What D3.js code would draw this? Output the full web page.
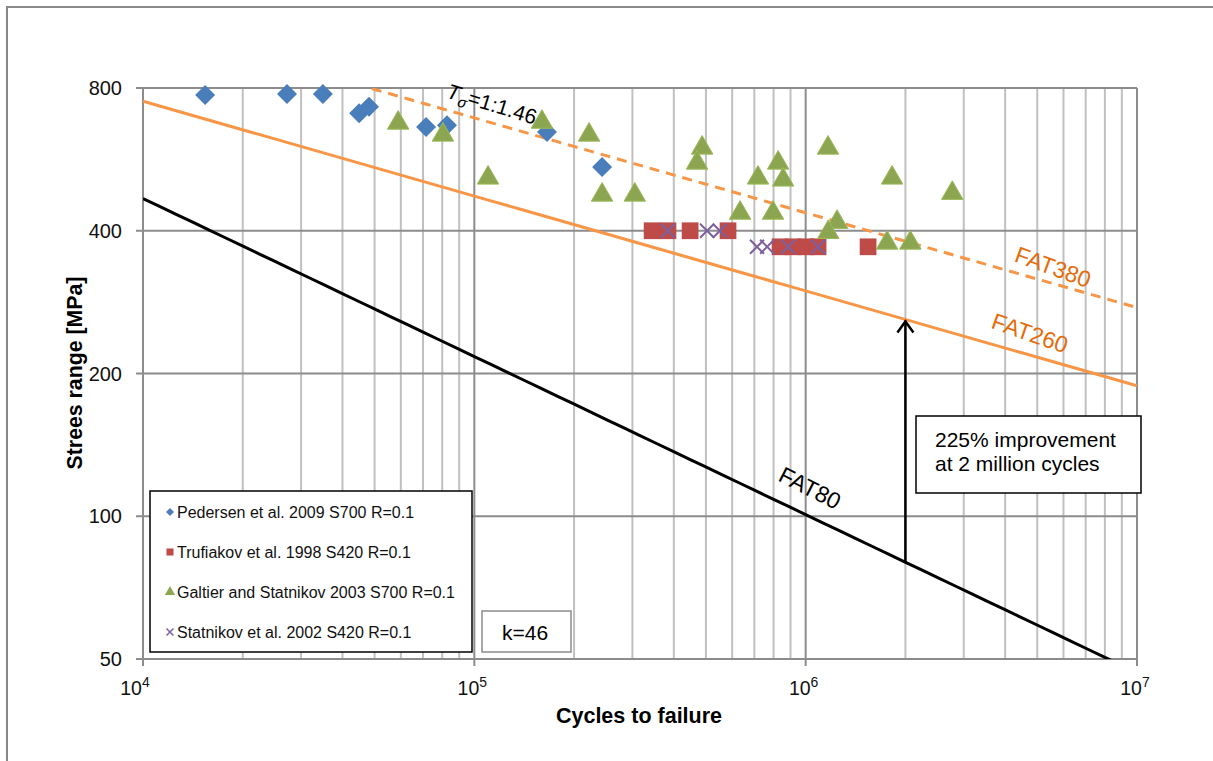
<!DOCTYPE html>
<html>
<head>
<meta charset="utf-8">
<script src="https://cdn.jsdelivr.net/npm/d3@7"></script>
<style>
  body { margin: 0; background: #fff; }
  text { font-family: "Liberation Sans", Arial, sans-serif; }
</style>
</head>
<body>
<script>
// data
const pedersenN = [1.54e4, 2.72e4, 3.49e4, 4.49e4, 4.81e4, 7.15e4, 8.27e4, 1.657e5, 2.43e5];
const pedersenS = [773, 777, 777, 708, 730, 662, 668, 646, 545];

const trufiakovN = [3.44e5, 3.84e5, 4.48e5, 5.83e5, 8.37e5, 9.16e5, 1.003e6, 1.09e6, 1.543e6];
const trufiakovS = [400, 400, 400, 400, 370, 370, 370, 370, 370];

const galtierN = [5.89e4, 8.04e4, 1.10e5, 1.60e5, 2.22e5, 2.43e5, 3.05e5, 4.87e5, 4.70e5, 6.34e5, 7.18e5,
                  8.26e5, 8.55e5, 7.97e5, 1.168e6, 1.244e6, 1.17e6, 1.761e6, 2.07e6, 1.823e6, 2.77e6];
const galtierS = [675, 637, 517, 678, 637, 476, 476, 598, 556, 436, 517,
                  556, 512, 436, 598, 417, 397, 377, 377, 517, 480];

const statnikovN = [3.84e5, 5.04e5, 5.51e5, 7.13e5, 7.65e5, 8.85e5, 1.09e6];
const statnikovS = [400, 400, 400, 370, 370, 370, 370];

const seriesNames = ["Pedersen et al. 2009 S700 R=0.1", "Trufiakov et al. 1998 S420 R=0.1",
                     "Galtier and Statnikov 2003 S700 R=0.1", "Statnikov et al. 2002 S420 R=0.1"];

const yTicks = [50, 100, 200, 400, 800];
const xTickExp = [4, 5, 6, 7];

// FAT curves: class, slope m
const fatClass = [80, 260, 380];
const fatSlope = [3, 5, 5];

const W = 1213, H = 761;
const margin = {left: 143, top: 88, right: 76, bottom: 102};

const x = d3.scaleLog().domain([1e4, 1e7]).range([margin.left, W - margin.right]);
const y = d3.scaleLog().domain([50, 800]).range([H - margin.bottom, margin.top]);

const svg = d3.select('body').append('svg')
    .attr('width', W).attr('height', H);

// outer chart border
svg.append('rect').attr('x', 7).attr('y', 7).attr('width', W).attr('height', H)
    .attr('fill', 'none').attr('stroke', '#898989').attr('stroke-width', 2);

const defs = svg.append('defs');
defs.append('clipPath').attr('id', 'plotClip').append('rect')
    .attr('x', x(1e4)).attr('y', y(800)).attr('width', x(1e7) - x(1e4)).attr('height', y(50) - y(800));

// grid: minor verticals
const minorX = [];
for (let e = 4; e < 7; e++) for (let k = 2; k <= 9; k++) minorX.push(k * Math.pow(10, e));
svg.append('g').selectAll('line').data(minorX).join('line')
    .attr('x1', d => x(d)).attr('x2', d => x(d))
    .attr('y1', y(800)).attr('y2', y(50))
    .attr('stroke', '#c0c0c0').attr('stroke-width', 2);

// major verticals
svg.append('g').selectAll('line').data(xTickExp.slice(1)).join('line')
    .attr('x1', d => x(Math.pow(10, d))).attr('x2', d => x(Math.pow(10, d)))
    .attr('y1', y(800)).attr('y2', y(50))
    .attr('stroke', '#8c8c8c').attr('stroke-width', 2);

// horizontal grid
svg.append('g').selectAll('line').data(yTicks.slice(1)).join('line')
    .attr('x1', x(1e4)).attr('x2', x(1e7))
    .attr('y1', d => y(d)).attr('y2', d => y(d))
    .attr('stroke', '#8c8c8c').attr('stroke-width', 2);

// axes lines + ticks
const axisG = svg.append('g').attr('stroke', '#8c8c8c').attr('stroke-width', 2);
axisG.append('line').attr('x1', x(1e4)).attr('x2', x(1e4)).attr('y1', y(800)).attr('y2', y(50));
axisG.append('line').attr('x1', x(1e4)).attr('x2', x(1e7)).attr('y1', y(50)).attr('y2', y(50));
axisG.selectAll('.yt').data(yTicks).join('line').attr('class', 'yt')
    .attr('x1', x(1e4) - 7).attr('x2', x(1e4)).attr('y1', d => y(d)).attr('y2', d => y(d));
axisG.selectAll('.xt').data(xTickExp).join('line').attr('class', 'xt')
    .attr('x1', d => x(Math.pow(10, d))).attr('x2', d => x(Math.pow(10, d)))
    .attr('y1', y(50)).attr('y2', y(50) + 7);

// tick labels
svg.append('g').selectAll('text').data(yTicks).join('text')
    .attr('x', x(1e4) - 21).attr('y', d => y(d)).attr('dy', '0.35em')
    .attr('text-anchor', 'end').attr('font-size', 20).attr('fill', '#111')
    .text(d => d);

const xl = svg.append('g').selectAll('text').data(xTickExp).join('text')
    .attr('x', d => x(Math.pow(10, d)) - (d === 4 ? 8 : 2)).attr('y', y(50) + 36)
    .attr('text-anchor', 'middle').attr('font-size', 19.5).attr('fill', '#111');
xl.append('tspan').text('10');
xl.append('tspan').attr('dy', -8).attr('font-size', 14).text(d => d);

// axis titles
svg.append('text').attr('x', 639).attr('y', 723).attr('text-anchor', 'middle')
    .attr('font-size', 21.5).attr('font-weight', 'bold').text('Cycles to failure');
svg.append('text').attr('transform', 'translate(82,373) rotate(-90)').attr('text-anchor', 'middle')
    .attr('font-size', 21.3).attr('font-weight', 'bold').text('Strees range [MPa]');

// FAT lines
const plot = svg.append('g').attr('clip-path', 'url(#plotClip)');
const fatS = (c, m, n) => c * Math.pow(2e6 / n, 1 / m);
const line = d3.line().x(d => x(d[0])).y(d => y(d[1]));
const nGrid = d3.range(0, 61).map(i => Math.pow(10, 4 + i * 0.05));
const fatStyle = [
  {stroke: '#000', dash: null},
  {stroke: '#f79646', dash: null},
  {stroke: '#f79646', dash: '10,7'}
];
fatClass.forEach((c, i) => {
  plot.append('path')
      .attr('d', line(nGrid.map(n => [n, fatS(c, fatSlope[i], n)])))
      .attr('fill', 'none').attr('stroke', fatStyle[i].stroke).attr('stroke-width', 3)
      .attr('stroke-dasharray', fatStyle[i].dash);
});

// markers
const sym = (type, size) => d3.symbol().type(type).size(size)();
function drawSeries(N, S, draw) {
  const g = svg.append('g');
  N.forEach((n, i) => draw(g.append('g').attr('transform', `translate(${x(n)},${y(S[i])})`)));
}
drawSeries(pedersenN, pedersenS, g => g.append('path').attr('d', sym(d3.symbolSquare, 200))
    .attr('transform', 'rotate(45)').attr('fill', '#4a7ebb'));
drawSeries(trufiakovN, trufiakovS, g => g.append('path').attr('d', sym(d3.symbolSquare, 280))
    .attr('fill', '#be4b48'));
drawSeries(galtierN, galtierS, g => g.append('path').attr('d', sym(d3.symbolTriangle, 200))
    .attr('fill', '#8ca550').attr('stroke', '#9bbb59').attr('stroke-width', 1));
drawSeries(statnikovN, statnikovS, g => g.append('path').attr('d', 'M-7,-7L7,7M-7,7L7,-7')
    .attr('stroke', '#7d60a0').attr('stroke-width', 2));

// arrow 2e6 from FAT80 to FAT260
const ax = x(2e6), y0 = y(fatS(80, 3, 2e6)), y1 = y(fatS(260, 5, 2e6));
svg.append('line').attr('x1', ax).attr('x2', ax).attr('y1', y0).attr('y2', y1 + 1)
    .attr('stroke', '#000').attr('stroke-width', 2.5);
svg.append('path').attr('d', `M${ax - 8},${y1 + 13}L${ax},${y1 + 2}L${ax + 8},${y1 + 13}`)
    .attr('fill', 'none').attr('stroke', '#000').attr('stroke-width', 2.5);

// line labels
const lbl = (cx, cy, ang, txt, col, fs) => svg.append('text')
    .attr('transform', `translate(${cx},${cy}) rotate(${ang})`)
    .attr('text-anchor', 'middle').attr('dy', '0.35em')
    .attr('font-family', '"Open Sans", sans-serif').attr('font-size', fs).attr('fill', col).text(txt);
lbl(1053, 267, 20, 'FAT380', '#e46c0a', 23);
lbl(1030, 333, 19, 'FAT260', '#e46c0a', 23);
lbl(810, 488, 27, 'FAT80', '#000', 23);

const tl = svg.append('text').attr('transform', 'translate(492,104) rotate(17)')
    .attr('text-anchor', 'middle').attr('dy', '0.35em')
    .attr('font-family', '"Open Sans", sans-serif').attr('font-size', 21).attr('fill', '#000');
tl.append('tspan').attr('font-style', 'italic').text('T');
tl.append('tspan').attr('font-style', 'italic').attr('font-size', 15).attr('dy', 5).text('σ');
tl.append('tspan').attr('dy', -5).text('=1:1.46');

// annotation box
svg.append('rect').attr('x', 916).attr('y', 416).attr('width', 225).attr('height', 77)
    .attr('fill', '#fff').attr('stroke', '#000').attr('stroke-width', 1.5);
svg.append('text').attr('x', 935).attr('y', 447).attr('font-size', 21).text('225% improvement');
svg.append('text').attr('x', 935).attr('y', 471).attr('font-size', 21).text('at 2 million cycles');

// k box
svg.append('rect').attr('x', 482).attr('y', 611).attr('width', 89).attr('height', 41)
    .attr('fill', '#fff').attr('stroke', '#8c8c8c').attr('stroke-width', 1.5);
svg.append('text').attr('x', 525).attr('y', 640).attr('text-anchor', 'middle')
    .attr('font-size', 21).text('k=46');

// legend
svg.append('rect').attr('x', 150).attr('y', 491).attr('width', 322).attr('height', 161)
    .attr('fill', '#fff').attr('stroke', '#000').attr('stroke-width', 1.5);
const legMarks = [
  g => g.append('path').attr('d', sym(d3.symbolSquare, 32)).attr('transform', 'rotate(45)').attr('fill', '#4a7ebb'),
  g => g.append('path').attr('d', sym(d3.symbolSquare, 50)).attr('fill', '#be4b48'),
  g => g.append('path').attr('d', sym(d3.symbolTriangle, 45)).attr('fill', '#8ca550'),
  g => g.append('path').attr('d', 'M-3.5,-3.5L3.5,3.5M-3.5,3.5L3.5,-3.5').attr('stroke', '#7d60a0').attr('stroke-width', 1.5)
];
seriesNames.forEach((name, i) => {
  const cy = 512 + i * 40;
  legMarks[i](svg.append('g').attr('transform', `translate(170,${cy})`));
  svg.append('text').attr('x', 177).attr('y', cy).attr('dy', '0.35em')
      .attr('font-size', 16).attr('fill', '#111').text(name);
});
</script>
</body>
</html>
